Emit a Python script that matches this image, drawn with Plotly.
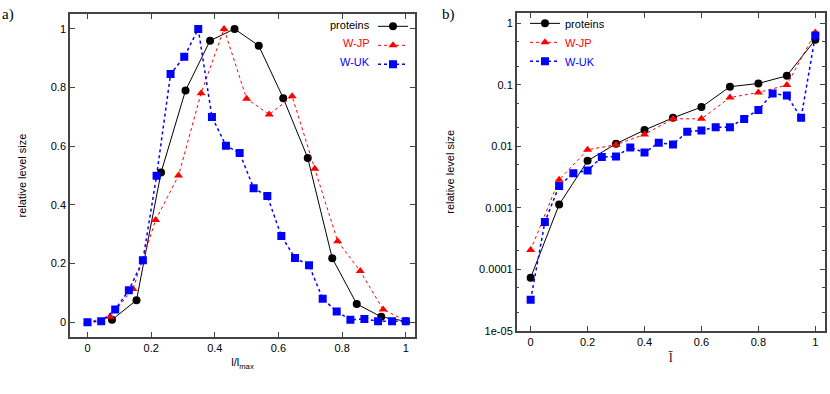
import plotly.graph_objects as go

# ---- panel a) data ----
prot_x = [0.077, 0.154, 0.231, 0.308, 0.385, 0.462, 0.538, 0.615, 0.692, 0.769, 0.846, 0.923, 1.0]
prot_y = [0.008, 0.075, 0.51, 0.79, 0.96, 1.0, 0.943, 0.764, 0.56, 0.218, 0.062, 0.018, 0.003]

jp_x = [0.0, 0.071, 0.143, 0.214, 0.286, 0.357, 0.429, 0.5, 0.571, 0.643, 0.714, 0.786, 0.857, 0.929, 1.0]
jp_y = [0.0, 0.018, 0.113, 0.348, 0.50, 0.781, 1.0, 0.762, 0.708, 0.770, 0.523, 0.276, 0.174, 0.043, 0.005]

uk_x = [0.0, 0.043, 0.087, 0.130, 0.174, 0.217, 0.261, 0.304, 0.348, 0.391, 0.435, 0.478,
        0.522, 0.565, 0.609, 0.652, 0.696, 0.739, 0.783, 0.826, 0.870, 0.913, 0.957, 1.0]
uk_y = [0.0, 0.003, 0.043, 0.109, 0.211, 0.499, 0.846, 0.905, 1.0, 0.70, 0.602, 0.577,
        0.457, 0.43, 0.294, 0.219, 0.194, 0.080, 0.036, 0.008, 0.011, 0.003, 0.003, 0.003]

# ---- panel b) data ----
b_x = [0.0, 0.1, 0.2, 0.3, 0.4, 0.5, 0.6, 0.7, 0.8, 0.9, 1.0]
b_prot = [7.3e-5, 0.00113, 0.0058, 0.011, 0.0184, 0.029, 0.0434, 0.093, 0.105, 0.14, 0.54]
b_jp = [2.06e-4, 0.00286, 0.0088, 0.0106, 0.0156, 0.028, 0.028, 0.062, 0.075, 0.099, 0.71]
b_uk_x = [0.0, 0.05, 0.1, 0.15, 0.2, 0.25, 0.3, 0.35, 0.4, 0.45, 0.5, 0.55, 0.6, 0.65, 0.7,
          0.75, 0.8, 0.85, 0.9, 0.95, 1.0]
b_uk = [3.2e-5, 5.9e-4, 0.00227, 0.00366, 0.00404, 0.0067, 0.0068, 0.0096, 0.0079, 0.0114,
        0.0107, 0.0173, 0.0181, 0.0205, 0.0205, 0.0279, 0.039, 0.072, 0.067, 0.029, 0.63]

lin_ticks = [0, 0.2, 0.4, 0.6, 0.8, 1]
lin_ticktext = ["0", "0.2", "0.4", "0.6", "0.8", "1"]
log_ticks = [1e-5, 1e-4, 1e-3, 1e-2, 1e-1, 1]
log_ticktext = ["1e-05", "0.0001", "0.001", "0.01", "0.1", "1"]
log_minor = [2e-5, 5e-5, 2e-4, 5e-4, 2e-3, 5e-3, 2e-2, 5e-2, 0.2, 0.5]

names = ["proteins", "W-JP", "W-UK"]
colors = ["black", "#ff0000", "#0000ff"]
symbols = ["circle", "triangle-up", "square"]
dashes = ["solid", "3px,3px", "dot"]
widths = [1, 1, 1.5]

W, H = 830, 394
SANS = "Liberation Sans, Arial, sans-serif"
SERIF = "Liberation Serif, Times New Roman, serif"

fig = go.Figure()

series_a = [(prot_x, prot_y), (jp_x, jp_y), (uk_x, uk_y)]
for i, (xs, ys) in enumerate(series_a):
    fig.add_trace(go.Scatter(
        x=xs, y=ys, mode="lines+markers", name="\u00a0",
        line=dict(color=colors[i], dash=dashes[i], width=widths[i]),
        marker=dict(symbol=symbols[i], size=8, color=colors[i]),
        xaxis="x", yaxis="y", legend="legend2", showlegend=True))

series_b = [(b_x, b_prot), (b_x, b_jp), (b_uk_x, b_uk)]
for i, (xs, ys) in enumerate(series_b):
    fig.add_trace(go.Scatter(
        x=xs, y=ys, mode="lines+markers",
        name='<span style="color:%s">%s</span>' % (colors[i], names[i]),
        line=dict(color=colors[i], dash=dashes[i], width=widths[i]),
        marker=dict(symbol=symbols[i], size=8, color=colors[i]),
        xaxis="x2", yaxis="y2", legend="legend", showlegend=True))

axis_common = dict(showline=True, linecolor="#444", linewidth=1.5, mirror="allticks",
                   ticks="inside", ticklen=5, tickcolor="#444", tickwidth=1,
                   showgrid=False, zeroline=False,
                   tickfont=dict(family=SANS, size=11, color="black"))

# panel pixel boxes
a_l, a_r, a_t, a_b = 70, 415, 14.5, 342
b_l, b_r, b_t, b_b = 516.7, 825, 13, 336

fig.update_layout(
    width=W, height=H, margin=dict(l=0, r=0, t=0, b=0),
    paper_bgcolor="white", plot_bgcolor="white",
    font=dict(family=SANS, size=11, color="black"),
    xaxis=dict(domain=[a_l / W, a_r / W], range=[-0.055, 1.029], anchor="y",
               tickvals=lin_ticks, ticktext=lin_ticktext,
               title=dict(text="l/l<sub>max</sub>", font=dict(family=SANS, size=11), standoff=6),
               **axis_common),
    yaxis=dict(domain=[1 - a_b / H, 1 - a_t / H], range=[-0.05, 1.05], anchor="x",
               tickvals=lin_ticks, ticktext=lin_ticktext,
               title=dict(text="relative level size", font=dict(family=SANS, size=11), standoff=22),
               **axis_common),
    xaxis2=dict(domain=[b_l / W, b_r / W], range=[-0.049, 1.034], anchor="y2",
                tickvals=lin_ticks, ticktext=lin_ticktext,
                title=dict(text="l\u0304", font=dict(family=SERIF, size=13), standoff=6),
                **axis_common),
    yaxis2=dict(domain=[1 - b_b / H, 1 - b_t / H], type="log", range=[-5, 0.17], anchor="x2",
                tickvals=log_ticks, ticktext=log_ticktext,
                minor=dict(tickvals=log_minor, ticks="inside", ticklen=3, tickcolor="#444"),
                title=dict(text="relative level size", font=dict(family=SANS, size=11), standoff=22),
                **axis_common),
    legend=dict(x=525 / W, y=1 - 9 / H, xanchor="left", yanchor="top",
                bgcolor="rgba(0,0,0,0)", borderwidth=0,
                font=dict(family=SANS, size=11), itemwidth=30, tracegroupgap=0),
    legend2=dict(x=373 / W, y=1 - 12 / H, xanchor="left", yanchor="top",
                 bgcolor="rgba(0,0,0,0)", borderwidth=0,
                 font=dict(family=SANS, size=11), itemwidth=30, tracegroupgap=0),
)

# text labels of the left legend (text placed left of the samples)
for i, nm in enumerate(names):
    fig.add_annotation(text=nm, xref="paper", yref="paper", x=372 / W, y=1 - (25 + 19 * i) / H,
                       xanchor="right", yanchor="middle", showarrow=False,
                       font=dict(family=SANS, size=11, color=colors[i]))

# panel labels
fig.add_annotation(text="a)", xref="paper", yref="paper", x=0, y=1 - 4 / H,
                   xanchor="left", yanchor="top", showarrow=False,
                   font=dict(family=SERIF, size=15, color="black"))
fig.add_annotation(text="b)", xref="paper", yref="paper", x=440 / W, y=1 - 4 / H,
                   xanchor="left", yanchor="top", showarrow=False,
                   font=dict(family=SERIF, size=15, color="black"))

fig.write_html("out.html", config={"displayModeBar": False},
               post_script="document.body.style.margin='0';document.body.style.overflow='hidden';")
